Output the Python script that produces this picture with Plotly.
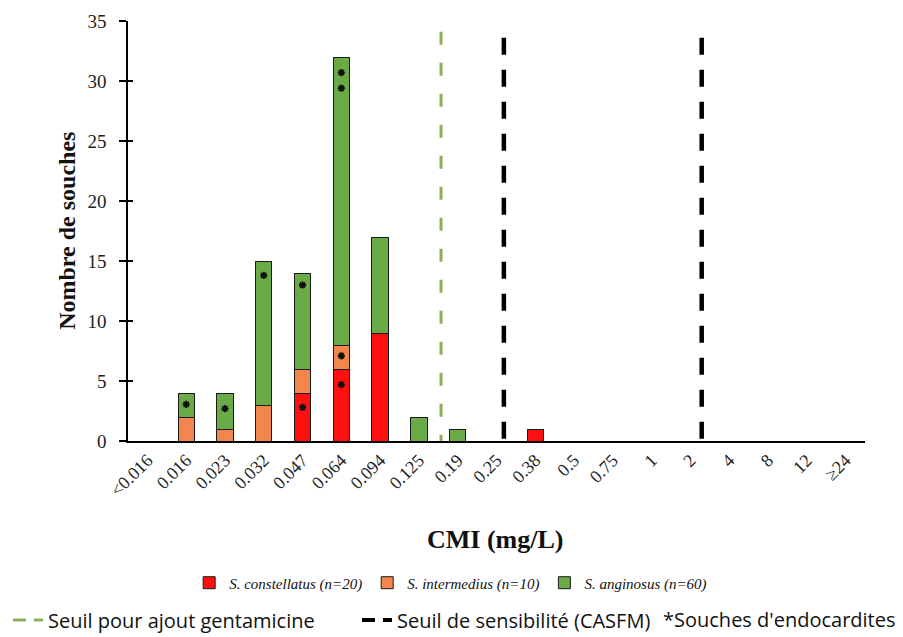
import plotly.graph_objects as go

categories = ["<0.016", "0.016", "0.023", "0.032", "0.047", "0.064", "0.094", "0.125",
              "0.19", "0.25", "0.38", "0.5", "0.75", "1", "2", "4", "8", "12", "≥24"]
constellatus = [0, 0, 0, 0, 4, 6, 9, 0, 0, 0, 1, 0, 0, 0, 0, 0, 0, 0, 0]
intermedius = [0, 2, 1, 3, 2, 2, 0, 0, 0, 0, 0, 0, 0, 0, 0, 0, 0, 0, 0]
anginosus = [0, 2, 3, 12, 8, 24, 8, 2, 1, 0, 0, 0, 0, 0, 0, 0, 0, 0, 0]

# endocarditis strains (asterisks) : category and height of the mark
endo_cat = ["0.016", "0.023", "0.032", "0.047", "0.047", "0.064", "0.064", "0.064", "0.064"]
endo_y = [3.05, 2.7, 13.8, 13.0, 2.8, 30.7, 29.4, 7.1, 4.7]

# threshold positions (category index units)
genta_pos = 7.57
casfm_pos = [9.19, 14.29]
genta_top = 34.1
casfm_top = 33.6

series = [
    ("<i>S. constellatus (n=20)</i>", constellatus, "#FF1010"),
    ("<i>S. intermedius (n=10)</i>", intermedius, "#F2874E"),
    ("<i>S. anginosus (n=60)</i>", anginosus, "#6AAA47"),
]

GREEN_DASH = "#8FAE5C"

fig = go.Figure()
for name, vals, col in series:
    fig.add_trace(go.Bar(
        x=categories, y=vals, name=name, marker_color=col,
        marker_line=dict(color="#1a1a1a", width=1), legend="legend",
    ))

fig.add_trace(go.Scatter(
    x=endo_cat, y=endo_y, mode="markers", showlegend=False,
    marker=dict(symbol="asterisk-open", size=6, color="#111111",
                line=dict(color="#111111", width=1.8)),
))

# legend-only traces for threshold lines
fig.add_trace(go.Scatter(x=[None], y=[None], mode="lines", name="Seuil pour ajout gentamicine",
                         line=dict(color=GREEN_DASH, width=3, dash="13px,8px"), legend="legend2"))
fig.add_trace(go.Scatter(x=[None], y=[None], mode="lines", name="Seuil de sensibilité (CASFM)",
                         line=dict(color="#000000", width=4, dash="13px,8px"), legend="legend2"))

shapes = [dict(type="line", xref="x", yref="y", x0=genta_pos, x1=genta_pos, y0=genta_top, y1=0,
               line=dict(color=GREEN_DASH, width=3, dash="13px,18px"), layer="below")]
for p in casfm_pos:
    shapes.append(dict(type="line", xref="x", yref="y", x0=p, x1=p, y0=casfm_top, y1=0,
                       line=dict(color="#000000", width=4.5, dash="17px,15px"), layer="below"))

serif = "Liberation Serif, Times New Roman, serif"
sans = "Open Sans, sans-serif"

# page body has an 8px margin: figure is sized so that it fills the window
fig.update_layout(
    width=895, height=629,
    margin=dict(l=120, r=38, t=13, b=196, autoexpand=False),
    paper_bgcolor="white", plot_bgcolor="white",
    barmode="stack", bargap=0.58,
    shapes=shapes,
    xaxis=dict(type="category", categoryorder="array", categoryarray=categories,
               range=[-0.5, 18.5], showline=True, linecolor="black", linewidth=1.5,
               ticks="", tickangle=-45, showgrid=False, zeroline=False, automargin=False,
               tickfont=dict(family=serif, size=18, color="#222")),
    yaxis=dict(range=[0, 35], dtick=5, showline=True, linecolor="black", linewidth=1.5,
               ticks="outside", ticklen=7, tickcolor="black", tickwidth=1.5, showgrid=False,
               zeroline=False, automargin=False, ticklabelstandoff=9,
               tickfont=dict(family=serif, size=19, color="#222")),
    yaxis2=dict(range=[0, 35], dtick=5, overlaying="y", side="left", ticks="inside", ticklen=5,
                tickcolor="black", tickwidth=1.5, showticklabels=False, showgrid=False,
                showline=False, zeroline=False),
    legend=dict(orientation="h", x=0.083, xanchor="left", y=-0.338, yanchor="middle",
                font=dict(family=serif, size=15, color="#111"), traceorder="normal",
                itemwidth=30, tracegroupgap=0, bgcolor="rgba(0,0,0,0)"),
    legend2=dict(orientation="h", x=-0.1628, xanchor="left", y=-0.426, yanchor="middle",
                 font=dict(family=sans, size=20, color="#111"), itemwidth=30, entrywidth=304,
                 bgcolor="rgba(0,0,0,0)"),
    annotations=[
        dict(text="<b>Nombre de souches</b>", xref="paper", yref="paper", x=-0.083, y=0.5,
             xanchor="center", yanchor="middle", textangle=-90, showarrow=False,
             font=dict(family=serif, size=24, color="#111")),
        dict(text="<b>CMI (mg/L)</b>", xref="paper", yref="paper", x=0.498, y=-0.2357,
             xanchor="center", yanchor="middle", showarrow=False,
             font=dict(family=serif, size=26, color="#111")),
        dict(text="*Souches d'endocardites", xref="paper", yref="paper", x=1.0448, y=-0.426,
             xanchor="right", yanchor="middle", showarrow=False,
             font=dict(family=sans, size=20, color="#111")),
    ],
)
# dummy trace to activate yaxis2
fig.add_trace(go.Scatter(x=[categories[0]], y=[0], yaxis="y2", mode="markers",
                         marker=dict(opacity=0), showlegend=False, hoverinfo="skip"))

fig.write_html("out.html")
